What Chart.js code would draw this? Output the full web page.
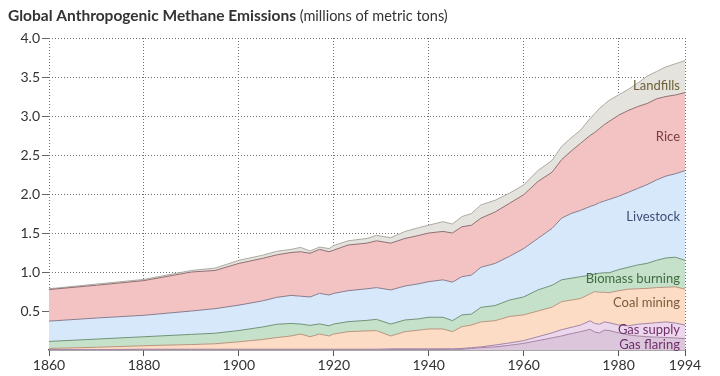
<!DOCTYPE html>
<html>
<head>
<meta charset="utf-8">
<script src="https://cdn.jsdelivr.net/npm/chart.js@4/dist/chart.umd.min.js"></script>
<style>
  html, body { margin: 0; padding: 0; background: #fff; }
  #wrap { width: 720px; height: 376px; position: relative; }
</style>
</head>
<body>
<div id="wrap"><canvas id="c" width="720" height="376"></canvas></div>
<script>
// ---- data (millions of metric tons, per source, stacked bottom -> top) ----
const years = [1860,1870,1880,1890,1895,1900,1905,1908,1911,1913,1915,1917,1919,1920,1923,1927,1929,1932,1935,1938,1940,1943,1945,1947,1949,1951,1954,1957,1960,1963,1966,1968,1970,1972,1974,1975,1976,1977,1978,1980,1982,1984,1986,1988,1990,1992,1994];

const gasFlaring = [0,0,0,0,0,0,0,0,0,0,0,0,0,0,0,0,0,0.005,0.005,0.005,0.005,0.008,0.01,0.01,0.02,0.03,0.04,0.06,0.085,0.12,0.155,0.18,0.21,0.235,0.265,0.23,0.22,0.255,0.25,0.22,0.195,0.18,0.17,0.165,0.16,0.155,0.145];
const gasSupply = [0.005,0.005,0.01,0.01,0.01,0.01,0.01,0.01,0.01,0.01,0.01,0.01,0.01,0.01,0.01,0.01,0.01,0.01,0.01,0.01,0.01,0.007,0.005,0.01,0.01,0.01,0.024,0.03,0.035,0.05,0.065,0.08,0.08,0.085,0.11,0.11,0.11,0.105,0.10,0.10,0.115,0.15,0.17,0.185,0.20,0.19,0.175];
const coalMining = [0.015,0.03,0.045,0.06,0.07,0.095,0.125,0.15,0.17,0.195,0.16,0.195,0.17,0.195,0.225,0.235,0.238,0.165,0.22,0.24,0.255,0.255,0.22,0.28,0.29,0.32,0.312,0.34,0.33,0.33,0.33,0.36,0.35,0.34,0.345,0.41,0.41,0.38,0.385,0.44,0.47,0.455,0.45,0.45,0.445,0.465,0.46];
const biomassBurning = [0.09,0.105,0.115,0.13,0.135,0.145,0.16,0.17,0.16,0.128,0.146,0.13,0.13,0.128,0.128,0.135,0.145,0.153,0.15,0.145,0.15,0.15,0.141,0.15,0.14,0.187,0.194,0.21,0.23,0.27,0.28,0.28,0.28,0.28,0.24,0.225,0.245,0.25,0.255,0.27,0.28,0.305,0.32,0.35,0.375,0.38,0.37];
const livestock = [0.26,0.27,0.275,0.30,0.315,0.325,0.335,0.345,0.36,0.357,0.364,0.391,0.395,0.393,0.397,0.405,0.407,0.437,0.435,0.45,0.456,0.48,0.494,0.49,0.50,0.513,0.54,0.56,0.62,0.66,0.73,0.79,0.83,0.85,0.88,0.885,0.905,0.92,0.94,0.94,0.96,0.98,1.01,1.03,1.05,1.07,1.15];
const rice = [0.405,0.42,0.445,0.50,0.49,0.535,0.545,0.545,0.55,0.57,0.56,0.564,0.555,0.554,0.586,0.585,0.60,0.60,0.61,0.62,0.624,0.62,0.63,0.64,0.64,0.63,0.66,0.68,0.69,0.73,0.72,0.75,0.80,0.86,0.91,0.93,0.95,0.98,1.00,1.04,1.05,1.05,1.04,1.04,1.02,1.01,1.00];
const landfills = [0.01,0.015,0.015,0.02,0.03,0.04,0.04,0.045,0.04,0.056,0.03,0.03,0.04,0.06,0.054,0.06,0.07,0.07,0.09,0.10,0.10,0.125,0.115,0.13,0.15,0.17,0.15,0.13,0.125,0.14,0.15,0.17,0.17,0.17,0.22,0.24,0.26,0.26,0.27,0.26,0.27,0.30,0.35,0.35,0.38,0.40,0.41];

const xTickValues = [1860,1880,1900,1920,1940,1960,1980,1994];
const yTickValues = [0,0.5,1,1.5,2,2.5,3,3.5,4];

const seriesNames = ['Gas flaring','Gas supply','Coal mining','Biomass burning','Livestock','Rice','Landfills'];
const seriesValues = [gasFlaring, gasSupply, coalMining, biomassBurning, livestock, rice, landfills];

// ---- styles ----
const fills   = ['#dcc6dc','#ecd7ec','#fcdcc4','#c6e1c9','#d8e8fb','#f3c3c4','#e5e3de'];
const strokes = ['#a584a5','#a584a5','#b8957f','#6f9379','#887c8c','#8f6f72','#aeaaa3'];
const labelColors = ['#6f2f6b','#6f2f6b','#7a5b3c','#3e6b40','#3d4d73','#7b3c3f','#6e6137'];
const labelValues = [0.064,0.256,0.60,0.91,1.705,2.73,3.385];
const FONT = 'Lato, "Open Sans", sans-serif';

const datasets = seriesNames.map((name, k) => ({
  label: name,
  data: years.map((yr, i) => ({x: yr, y: seriesValues[k][i]})),
  backgroundColor: fills[k],
  borderColor: strokes[k],
  borderWidth: 1,
  pointRadius: 0,
  tension: 0,
  fill: k === 0 ? 'origin' : '-1'
}));

const overlay = {
  id: 'overlay',
  afterDraw(chart) {
    const ctx = chart.ctx;
    const ys = chart.scales.y;
    ctx.save();
    // title
    ctx.textBaseline = 'middle';
    ctx.textAlign = 'left';
    ctx.fillStyle = '#333';
    ctx.font = 'bold 15.5px ' + FONT;
    const t1 = 'Global Anthropogenic Methane Emissions';
    ctx.fillText(t1, 8, 16);
    const w = ctx.measureText(t1).width;
    ctx.font = '14.5px ' + FONT;
    ctx.fillText(' (millions of metric tons)', 8 + w, 16);
    // series labels
    ctx.textAlign = 'right';
    ctx.font = '13px ' + FONT;
    const xr = chart.chartArea.right - 5;
    seriesNames.forEach((n, k) => {
      ctx.fillStyle = labelColors[k];
      ctx.fillText(n, xr, ys.getPixelForValue(labelValues[k]));
    });
    ctx.restore();
  }
};

new Chart(document.getElementById('c'), {
  type: 'line',
  data: { datasets },
  options: {
    responsive: false,
    animation: false,
    events: [],
    layout: { padding: { left: 0, right: 35, top: 38, bottom: 0 } },
    plugins: { legend: { display: false }, tooltip: { enabled: false }, title: { display: false } },
    scales: {
      x: {
        type: 'linear', min: 1860, max: 1994, z: 1,
        afterBuildTicks: s => { s.ticks = xTickValues.map(v => ({ value: v })); },
        afterFit: s => { s.height = 26; },
        ticks: { callback: v => String(v), color: '#333', font: { family: FONT, size: 14 }, padding: 1, maxRotation: 0, autoSkip: false },
        grid: { color: '#6f6f6f', lineWidth: 1, tickColor: '#555', tickLength: 6, tickWidth: 1 },
        border: { display: true, color: '#555', width: 1.5, dash: [1, 2] }
      },
      y: {
        type: 'linear', min: 0, max: 4, stacked: true, z: 1,
        afterBuildTicks: s => { s.ticks = yTickValues.map(v => ({ value: v })); },
        afterFit: s => { s.width = 49; },
        ticks: { callback: v => (v === 0 ? '' : v.toFixed(1)), color: '#333', font: { family: FONT, size: 14 }, padding: 2 },
        grid: { color: ctx => (ctx.tick && ctx.tick.value === 0 ? 'rgba(0,0,0,0)' : '#6f6f6f'), lineWidth: 1,
                tickColor: ctx => (ctx.tick && ctx.tick.value === 0 ? 'rgba(0,0,0,0)' : '#666'), tickLength: 7, tickWidth: 1 },
        border: { display: false, dash: [1, 2] }
      }
    }
  },
  plugins: [overlay]
});
</script>
</body>
</html>
